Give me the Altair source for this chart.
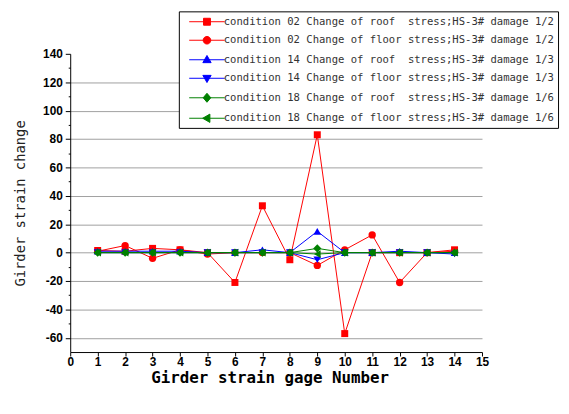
import altair as alt
import pandas as pd

gauge = list(range(1, 15))
labels = [
    "condition 02 Change of roof \u00a0stress;HS-3# damage 1/2",
    "condition 02 Change of floor stress;HS-3# damage 1/2",
    "condition 14 Change of roof \u00a0stress;HS-3# damage 1/3",
    "condition 14 Change of floor stress;HS-3# damage 1/3",
    "condition 18 Change of roof \u00a0stress;HS-3# damage 1/6",
    "condition 18 Change of floor stress;HS-3# damage 1/6",
]
colors = ["#ff0000", "#ff0000", "#0000ff", "#0000ff", "#008000", "#008000"]
shapes = ["square", "circle", "triangle-up", "triangle-down", "diamond", "triangle-left"]
sizes = [50, 55, 60, 60, 70, 60]
legend_paths = [
    "M-2.57,0H2.57M-0.5,-0.5H0.5V0.5H-0.5Z",
    "M-2.57,0H2.57M-0.55,0A0.55,0.55,0,1,0,0.55,0A0.55,0.55,0,1,0,-0.55,0Z",
    "M-2.57,0H2.57M0,-0.62L0.6,0.42H-0.6Z",
    "M-2.57,0H2.57M0,0.62L0.6,-0.42H-0.6Z",
    "M-2.57,0H2.57M0,-0.65L0.55,0L0,0.65L-0.55,0Z",
    "M-2.57,0H2.57M-0.62,0L0.42,-0.6V0.6Z",
]

c02_roof = [1.5, 1, 3, 2, 0, -21, 33, -5, 83, -57, 0, 0, 0, 2]
c02_floor = [1, 5, -4, 2, -1, 0, 0, 0, -9, 2, 12.5, -21, 0, 1]
c14_roof = [1, 1, 1, 1, 0, 0, 2, 0, 15, 0, 0, 1, 0, 0]
c14_floor = [0, 0, 0, 0, 0, 0, 0, 0, -5, 0, 0, 0, 0, -1]
c18_roof = [0, 0, 0, 0, 0, 0, 0, 0, 3, 0, 0, 0, 0, 0]
c18_floor = [0, 0, 0, 0, 0, 0, 0, 0, -1, 0, 0, 0, 0, 0]
series_values = [c02_roof, c02_floor, c14_roof, c14_floor, c18_roof, c18_floor]

x_ticks = list(range(0, 16))
y_ticks = list(range(-60, 141, 10))

rows = []
for lab, vals in zip(labels, series_values):
    for g, v in zip(gauge, vals):
        rows.append({"gauge": g, "value": v, "label": lab})
df = pd.DataFrame(rows)

xscale = alt.Scale(domain=[0, 15], nice=False, zero=False)
yscale = alt.Scale(domain=[-70, 140], nice=False, zero=False)

xaxis = alt.Axis(
    values=x_ticks, title="Girder strain gage Number", grid=False,
    domainColor="black", tickColor="black", tickSize=4,
    labelFont="Liberation Sans", labelFontWeight="bold", labelFontSize=12,
    labelColor="black", labelPadding=1, labelFlush=False,
    titleFont="DejaVu Sans Mono", titleFontSize=16, titleFontWeight="bold",
    titleColor="black", titlePadding=2, titleX=202,
)
yaxis = alt.Axis(
    values=y_ticks, title="Girder strain change",
    labelExpr="datum.value % 20 === 0 ? replace(datum.label, '\u2212', '-') : ''",
    domainColor="black", tickColor="black", tickSize=5,
    tickDash={"condition": {"test": "datum.value % 20 === 0", "value": []}, "value": [2, 10]},
    grid=True, gridColor="#a0a0a0", gridWidth=1,
    gridOpacity={"condition": {"test": "datum.value % 20 === 0 && datum.value < 140", "value": 1}, "value": 0},
    labelFont="Liberation Sans", labelFontWeight="bold", labelFontSize=12,
    labelColor="black", labelPadding=3, labelFlush=False,
    titleFont="DejaVu Sans Mono", titleFontSize=14, titleFontWeight="normal",
    titleColor="#222222", titlePadding=15,
)

base = alt.Chart(df)
layers = []
for lab, col, shp, sz in zip(labels, colors, shapes, sizes):
    sub = base.transform_filter(alt.datum.label == lab)
    enc = dict(
        x=alt.X("gauge:Q", scale=xscale, axis=xaxis),
        y=alt.Y("value:Q", scale=yscale, axis=yaxis),
    )
    layers.append(sub.mark_line(color=col, strokeWidth=1).encode(**enc))
    layers.append(sub.mark_point(shape=shp, filled=True, color=col, size=sz, opacity=1).encode(**enc))

legend_layer = base.mark_point(filled=True, opacity=0).encode(
    x=alt.X("gauge:Q", scale=xscale, axis=xaxis),
    y=alt.Y("value:Q", scale=yscale, axis=yaxis),
    color=alt.Color("label:N", scale=alt.Scale(domain=labels, range=colors), legend=alt.Legend(title=None)),
    shape=alt.Shape("label:N", scale=alt.Scale(domain=labels, range=legend_paths), legend=alt.Legend(title=None)),
    stroke=alt.Stroke("label:N", scale=alt.Scale(domain=labels, range=colors), legend=alt.Legend(title=None)),
)
layers.append(legend_layer)

chart = alt.layer(*layers).properties(
    width=417, height=302, background="white",
    padding={"left": 5, "top": 0, "right": 2, "bottom": 0},
).configure_view(stroke=None).configure_legend(
    orient="none", legendX=110, legendY=-43,
    fillColor="white", strokeColor="black", strokeWidth=1,
    padding=3, rowPadding=5.75, symbolSize=196, symbolStrokeWidth=1,
    symbolOffset=18, symbolOpacity=1,
    labelFont="DejaVu Sans Mono", labelFontSize=10.7,
    labelColor="#333333", labelLimit=1000, labelOffset=9.5,
)

chart.save("out.html", embed_options={"renderer": "svg", "actions": False})
